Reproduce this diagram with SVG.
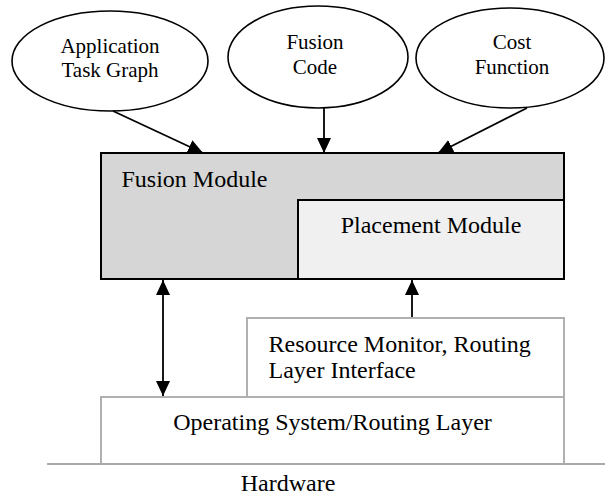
<svg xmlns="http://www.w3.org/2000/svg" width="605" height="497" viewBox="0 0 605 497">
  <style>
    text { font-family: "Liberation Serif", "Times New Roman", serif; fill: #000; }
    .src { fill: #fff; stroke: #000; stroke-width: 1.6; }
    .small { font-size: 21px; }
    .big { font-size: 24px; }
    .layer { fill: #fff; stroke: #b0b0b0; stroke-width: 2; }
    .edge { stroke: #000; stroke-width: 1.8; fill: none; }
  </style>
  <defs>
    <marker id="arrow" markerUnits="userSpaceOnUse" markerWidth="16" markerHeight="16" viewBox="0 0 16 16" refX="15" refY="8" orient="auto-start-reverse">
      <path d="M0,1 L15,8 L0,15 Z" fill="#000"/>
    </marker>
  </defs>

  <!-- input ellipses -->
  <g id="app-task-graph">
    <ellipse class="src" cx="110" cy="61" rx="98" ry="50"/>
    <text class="small" x="110" y="53" text-anchor="middle">Application</text>
    <text class="small" x="110" y="77" text-anchor="middle">Task Graph</text>
  </g>
  <g id="fusion-code">
    <ellipse class="src" cx="318" cy="57" rx="90" ry="51"/>
    <text class="small" x="315" y="49" text-anchor="middle">Fusion</text>
    <text class="small" x="315" y="74" text-anchor="middle">Code</text>
  </g>
  <g id="cost-function">
    <ellipse class="src" cx="510" cy="58" rx="94" ry="50"/>
    <text class="small" x="512" y="49" text-anchor="middle">Cost</text>
    <text class="small" x="512" y="74" text-anchor="middle">Function</text>
  </g>

  <!-- modules -->
  <g id="fusion-module">
    <rect x="101" y="153" width="463" height="126" fill="#d6d6d6" stroke="#000" stroke-width="2"/>
    <text class="big" x="121.5" y="186.5">Fusion Module</text>
  </g>
  <g id="placement-module">
    <rect x="298" y="200" width="266" height="79" fill="#f0f0f0" stroke="#000" stroke-width="2"/>
    <text class="big" x="431" y="232.5" text-anchor="middle">Placement Module</text>
  </g>

  <!-- system layers -->
  <g id="os-routing-layer">
    <rect class="layer" x="101" y="397" width="463" height="67"/>
    <text class="big" x="332.5" y="430" text-anchor="middle">Operating System/Routing Layer</text>
  </g>
  <g id="resource-monitor">
    <rect class="layer" x="247" y="318" width="317" height="79"/>
    <text class="big" x="268.5" y="351.5">Resource Monitor, Routing</text>
    <text class="big" x="268.5" y="378">Layer Interface</text>
  </g>
  <g id="hardware">
    <line x1="47" y1="464" x2="605" y2="464" stroke="#aaaaaa" stroke-width="2"/>
    <text class="big" x="288" y="491" text-anchor="middle">Hardware</text>
  </g>

  <!-- connectors -->
  <g id="connectors">
    <line class="edge" x1="113" y1="111" x2="203" y2="153" marker-end="url(#arrow)"/>
    <line class="edge" x1="324" y1="108" x2="324" y2="153" marker-end="url(#arrow)"/>
    <line class="edge" x1="527" y1="108" x2="438" y2="153" marker-end="url(#arrow)"/>
    <line class="edge" x1="163" y1="280" x2="163" y2="396" marker-start="url(#arrow)" marker-end="url(#arrow)"/>
    <line class="edge" x1="412" y1="317" x2="412" y2="280" marker-end="url(#arrow)"/>
  </g>
</svg>
